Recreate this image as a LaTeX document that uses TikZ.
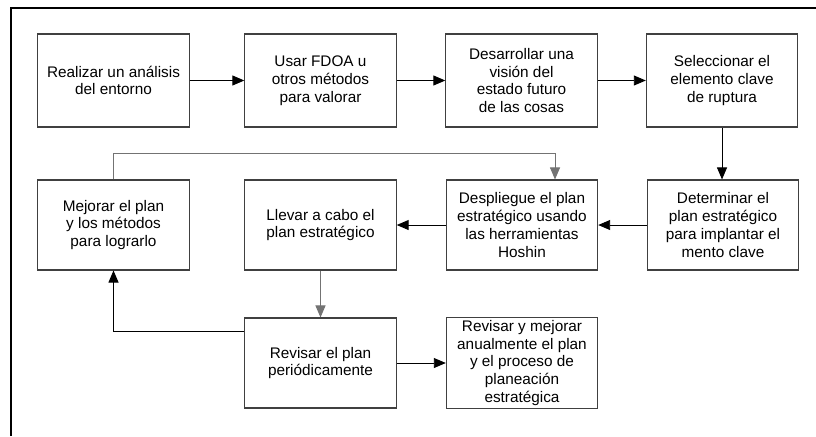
\documentclass[tikz,border=0pt]{standalone}
\usepackage{fontspec}
\setmainfont{Liberation Sans}
\usetikzlibrary{arrows.meta}

\begin{document}
\begin{tikzpicture}[x=0.75pt,y=-0.75pt,
  caja/.style={draw=black!75, line width=0.8pt, minimum width=113.5pt, minimum height=67.5pt, align=center, inner sep=2pt, font=\fontsize{11.5}{13.3}\selectfont},
  alta/.style={minimum height=69.75pt},
  flecha/.style={-{Triangle[length=9pt,width=7.5pt]}, line width=0.7pt},
  gris/.style={draw=black!55}]
\useasboundingbox (0,0) rectangle (816,436);
\draw [line width=1.6pt] (11,436) -- (11,8) -- (816,8);

% primera fila
\node [caja,alta] (analisis) at (113.5,80.5) {Realizar un análisis\\del entorno};
\node [caja,alta] (fdoa) at (320.5,80.5) {Usar FDOA u\\otros métodos\\para valorar};
\node [caja,alta] (vision) at (521.5,80.5) {Desarrollar una\\visión del\\estado futuro\\de las cosas};
\node [caja,alta] (ruptura) at (722,80.5) {Seleccionar el\\elemento clave\\de ruptura};

% segunda fila
\node [caja] (mejorar) at (113.5,225) {Mejorar el plan\\y los métodos\\para lograrlo};
\node [caja] (llevar) at (320.5,225) {Llevar a cabo el\\plan estratégico};
\node [caja] (hoshin) at (522,225) {Despliegue el plan\\estratégico usando\\las herramientas\\Hoshin};
\node [caja] (determinar) at (723,225) {Determinar el\\plan estratégico\\para implantar el\\mento clave};

% tercera fila
\node [caja] (revisar) at (320.5,363) {Revisar el plan\\periódicamente};
\node [caja] (anual) at (522,363) {Revisar y mejorar\\anualmente el plan\\y el proceso de\\planeación\\estratégica};

\draw [flecha] (analisis) -- (fdoa);
\draw [flecha] (fdoa) -- (vision);
\draw [flecha] (vision) -- (ruptura);
\draw [flecha] (ruptura) -- (ruptura |- determinar.north);
\draw [flecha] (determinar) -- (hoshin);
\draw [flecha] (hoshin) -- (llevar);
\draw [flecha,gris] (llevar) -- (revisar);
\draw [flecha] ([yshift=-10.5pt]revisar.north west) -| (mejorar.south);
\draw [flecha,gris] (mejorar.north) -- ++(0,-26) -| ([xshift=24.75pt]hoshin.north);
\draw [flecha] (revisar) -- (anual);

\end{tikzpicture}
\end{document}
